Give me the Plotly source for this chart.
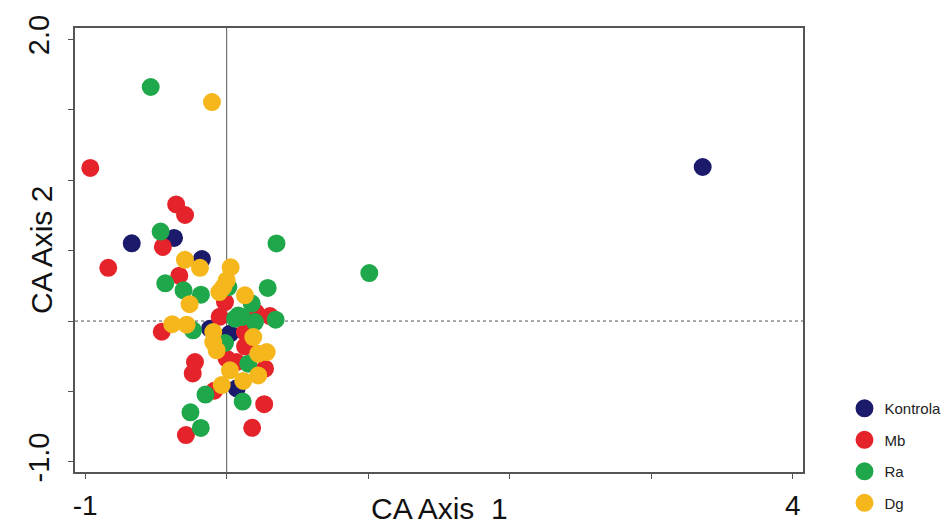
import plotly.graph_objects as go

# Correspondence analysis scores, one list pair per treatment group
groups = ["Kontrola", "Mb", "Ra", "Dg"]
colors = ["#1b1a6b", "#e5232b", "#1fa84b", "#f5b71c"]

kontrola_x = [3.364, -0.671, -0.372, -0.175, -0.118, 0.023, 0.071]
kontrola_y = [1.094, 0.552, 0.590, 0.440, -0.054, -0.090, -0.478]

mb_x = [-0.964, -0.357, -0.294, -0.451, -0.837, -0.335, -0.012, -0.050, 0.206,
        0.306, -0.459, 0.129, 0.130, 0.000, 0.070, 0.271, -0.224, -0.240,
        -0.088, 0.265, -0.288, 0.180]
mb_y = [1.087, 0.828, 0.753, 0.526, 0.378, 0.322, 0.135, 0.030, 0.062,
        0.035, -0.076, -0.078, -0.180, -0.267, -0.291, -0.338, -0.291, -0.372,
        -0.495, -0.590, -0.810, -0.758]

ra_x = [-0.537, -0.467, 0.352, 1.008, -0.434, -0.305, -0.182, 0.290, 0.012,
        0.177, 0.059, 0.106, 0.200, 0.346, -0.238, -0.012, 0.153, -0.150,
        0.113, -0.256, -0.183, 0.082]
ra_y = [1.662, 0.635, 0.551, 0.341, 0.268, 0.218, 0.187, 0.235, 0.241,
        0.124, 0.017, 0.028, -0.007, 0.010, -0.066, -0.156, -0.303, -0.522,
        -0.572, -0.648, -0.759, 0.040]

dg_x = [-0.104, -0.295, -0.189, -0.262, 0.028, 0.000, -0.024, -0.052, 0.129,
        -0.385, -0.283, -0.095, -0.095, 0.188, -0.071, 0.223, 0.283, 0.023,
        0.223, 0.117, -0.035]
dg_y = [1.555, 0.435, 0.378, 0.120, 0.382, 0.289, 0.241, 0.206, 0.183,
        -0.022, -0.026, -0.078, -0.149, -0.114, -0.208, -0.232, -0.220, -0.350,
        -0.386, -0.425, -0.455]

xs = [kontrola_x, mb_x, ra_x, dg_x]
ys = [kontrola_y, mb_y, ra_y, dg_y]

x_ticks = [-1, 0, 1, 2, 3, 4]
x_tick_text = ["-1", "", "", "", "", "4"]
y_ticks = [-1.0, -0.5, 0.0, 0.5, 1.0, 1.5, 2.0]
y_tick_text = ["-1.0", "", "", "", "", "", "2.0"]

FONT = "Liberation Sans, Arial, sans-serif"

fig = go.Figure()
for name, col, gx, gy in zip(groups, colors, xs, ys):
    fig.add_trace(go.Scatter(
        x=gx, y=gy, mode="markers", name=name, legendgroup=name,
        marker=dict(size=16, color=col, line=dict(color=col, width=2)),
    ))

# reference lines through the origin
fig.add_shape(type="line", xref="x", yref="paper", x0=0, x1=0, y0=0, y1=1,
              line=dict(color="#555555", width=1), layer="below")
fig.add_shape(type="line", xref="paper", yref="y", x0=0, x1=1, y0=0, y1=0,
              line=dict(color="#555555", width=1, dash="dot"), layer="below")

axis_common = dict(
    showline=True, linecolor="#555555", linewidth=1.5, mirror=True,
    ticks="outside", ticklen=5, tickcolor="#555555", tickwidth=1,
    showgrid=False, zeroline=False, automargin=False,
)

fig.update_xaxes(range=[-1.072, 4.073], tickvals=x_ticks, ticktext=x_tick_text,
                 ticklabelstandoff=3,
                 tickfont=dict(family=FONT, size=28, color="#111111"),
                 **axis_common)
fig.update_yaxes(range=[-1.072, 2.081], tickvals=y_ticks, ticktext=y_tick_text,
                 tickangle=-90, ticklabelstandoff=8,
                 tickfont=dict(family=FONT, size=29, color="#111111"),
                 **axis_common)

fig.add_annotation(text="CA Axis  1", xref="paper", yref="paper", x=0.5, y=0,
                   yshift=-36, showarrow=False, yanchor="middle",
                   font=dict(family=FONT, size=30, color="#111111"))
fig.add_annotation(text="CA Axis 2", xref="paper", yref="paper", x=0, y=0.5,
                   xshift=-34, textangle=-90, showarrow=False, xanchor="center",
                   font=dict(family=FONT, size=30, color="#111111"))

fig.update_layout(
    width=949, height=524,
    margin=dict(l=75, r=146, t=28, b=52, autoexpand=False),
    plot_bgcolor="white", paper_bgcolor="white",
    showlegend=True,
    legend=dict(x=1.057, y=0.18, xanchor="left", yanchor="top",
                font=dict(family=FONT, size=15, color="#222222"),
                tracegroupgap=9, bgcolor="rgba(0,0,0,0)"),
)

fig.write_html("out.html")
